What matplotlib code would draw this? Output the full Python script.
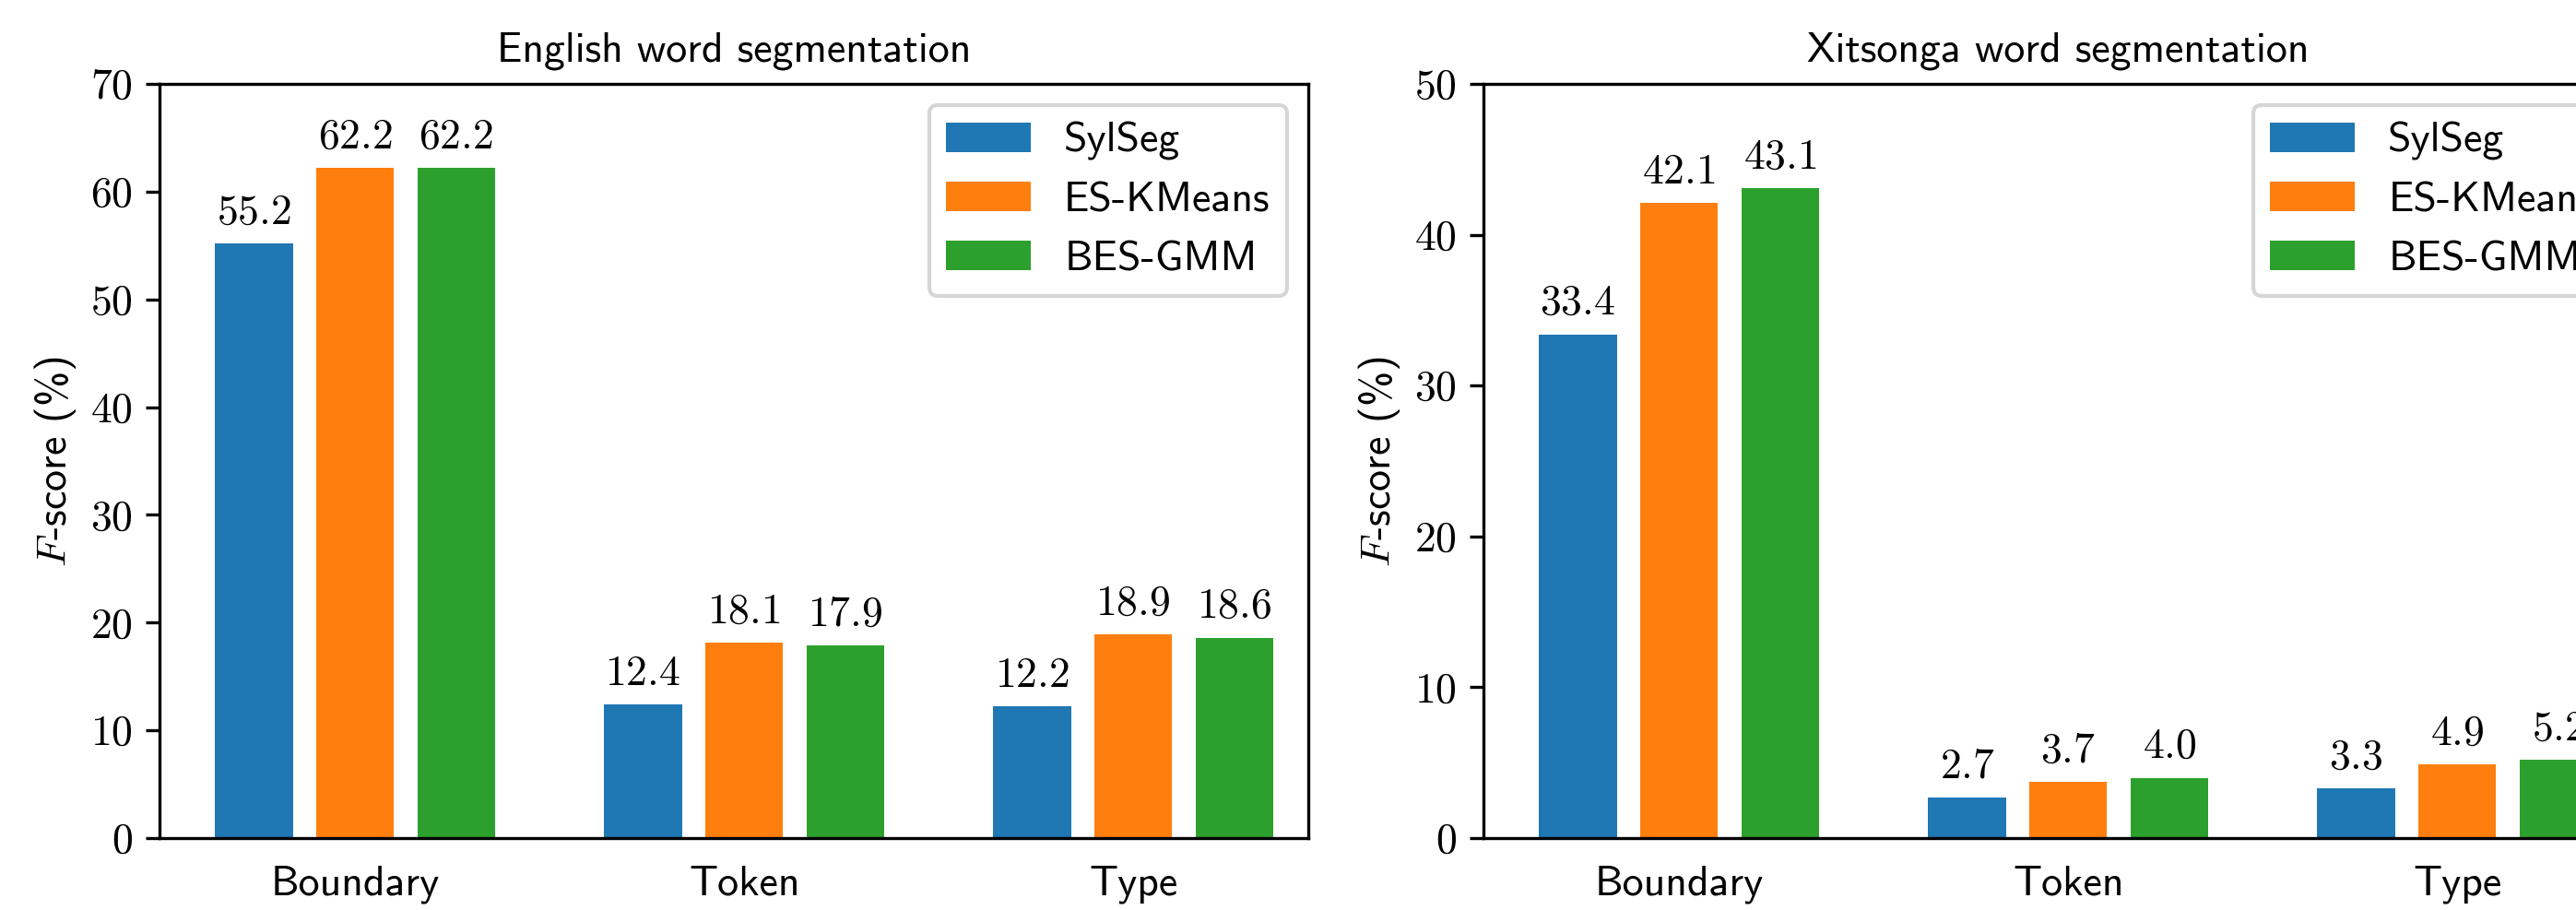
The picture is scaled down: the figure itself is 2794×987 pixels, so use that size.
import matplotlib
matplotlib.use("Agg")
import matplotlib.pyplot as plt
import numpy as np
from matplotlib.ticker import FuncFormatter

categories = ["Boundary", "Token", "Type"]
methods = ["SylSeg", "ES-KMeans", "BES-GMM"]
colors = ["#1f77b4", "#ff7f0e", "#2ca02c"]

english_sylseg = [55.2, 12.4, 12.2]
english_eskmeans = [62.2, 18.1, 18.9]
english_besgmm = [62.2, 17.9, 18.6]

xitsonga_sylseg = [33.4, 2.7, 3.3]
xitsonga_eskmeans = [42.1, 3.7, 4.9]
xitsonga_besgmm = [43.1, 4.0, 5.2]

english_ylim = 70
xitsonga_ylim = 50

plt.rcParams["font.family"] = ["cmss10", "DejaVu Sans"]
plt.rcParams["mathtext.fontset"] = "cm"
plt.rcParams["font.size"] = 11
plt.rcParams["axes.titlesize"] = 11
plt.rcParams["axes.formatter.use_mathtext"] = True

fig = plt.figure(figsize=(2794 / 300, 987 / 300), dpi=300)

W = 1246 / 2794
H = (909 - 91) / 987
B = (987 - 909) / 987
ax1 = fig.add_axes([173 / 2794, B, W, H])
ax2 = fig.add_axes([1609 / 2794, B, W, H])

x = np.arange(len(categories))
offsets = [-0.26, 0.0, 0.26]
width = 0.2


def draw(ax, series, ymax, title):
    for s, vals in enumerate(series):
        bars = ax.bar(x + offsets[s], vals, width, color=colors[s], label=methods[s])
        ax.bar_label(bars, labels=[f"${v:.1f}$" for v in vals], padding=3)
    ax.set_xlim(-0.503, 2.45)
    ax.set_ylim(0, ymax)
    ax.set_xticks(x)
    ax.set_xticklabels(categories)
    ax.tick_params(axis="x", length=0, pad=7)
    ax.yaxis.set_major_formatter(FuncFormatter(lambda v, p: f"${v:.0f}$"))
    ax.set_ylabel(r"$F$-score (%)", labelpad=3)
    ax.set_title(title, pad=6)
    ax.legend(loc="upper right")


draw(ax1, [english_sylseg, english_eskmeans, english_besgmm], english_ylim,
     "English word segmentation")
draw(ax2, [xitsonga_sylseg, xitsonga_eskmeans, xitsonga_besgmm], xitsonga_ylim,
     "Xitsonga word segmentation")

fig.savefig("out.png", dpi=300)
